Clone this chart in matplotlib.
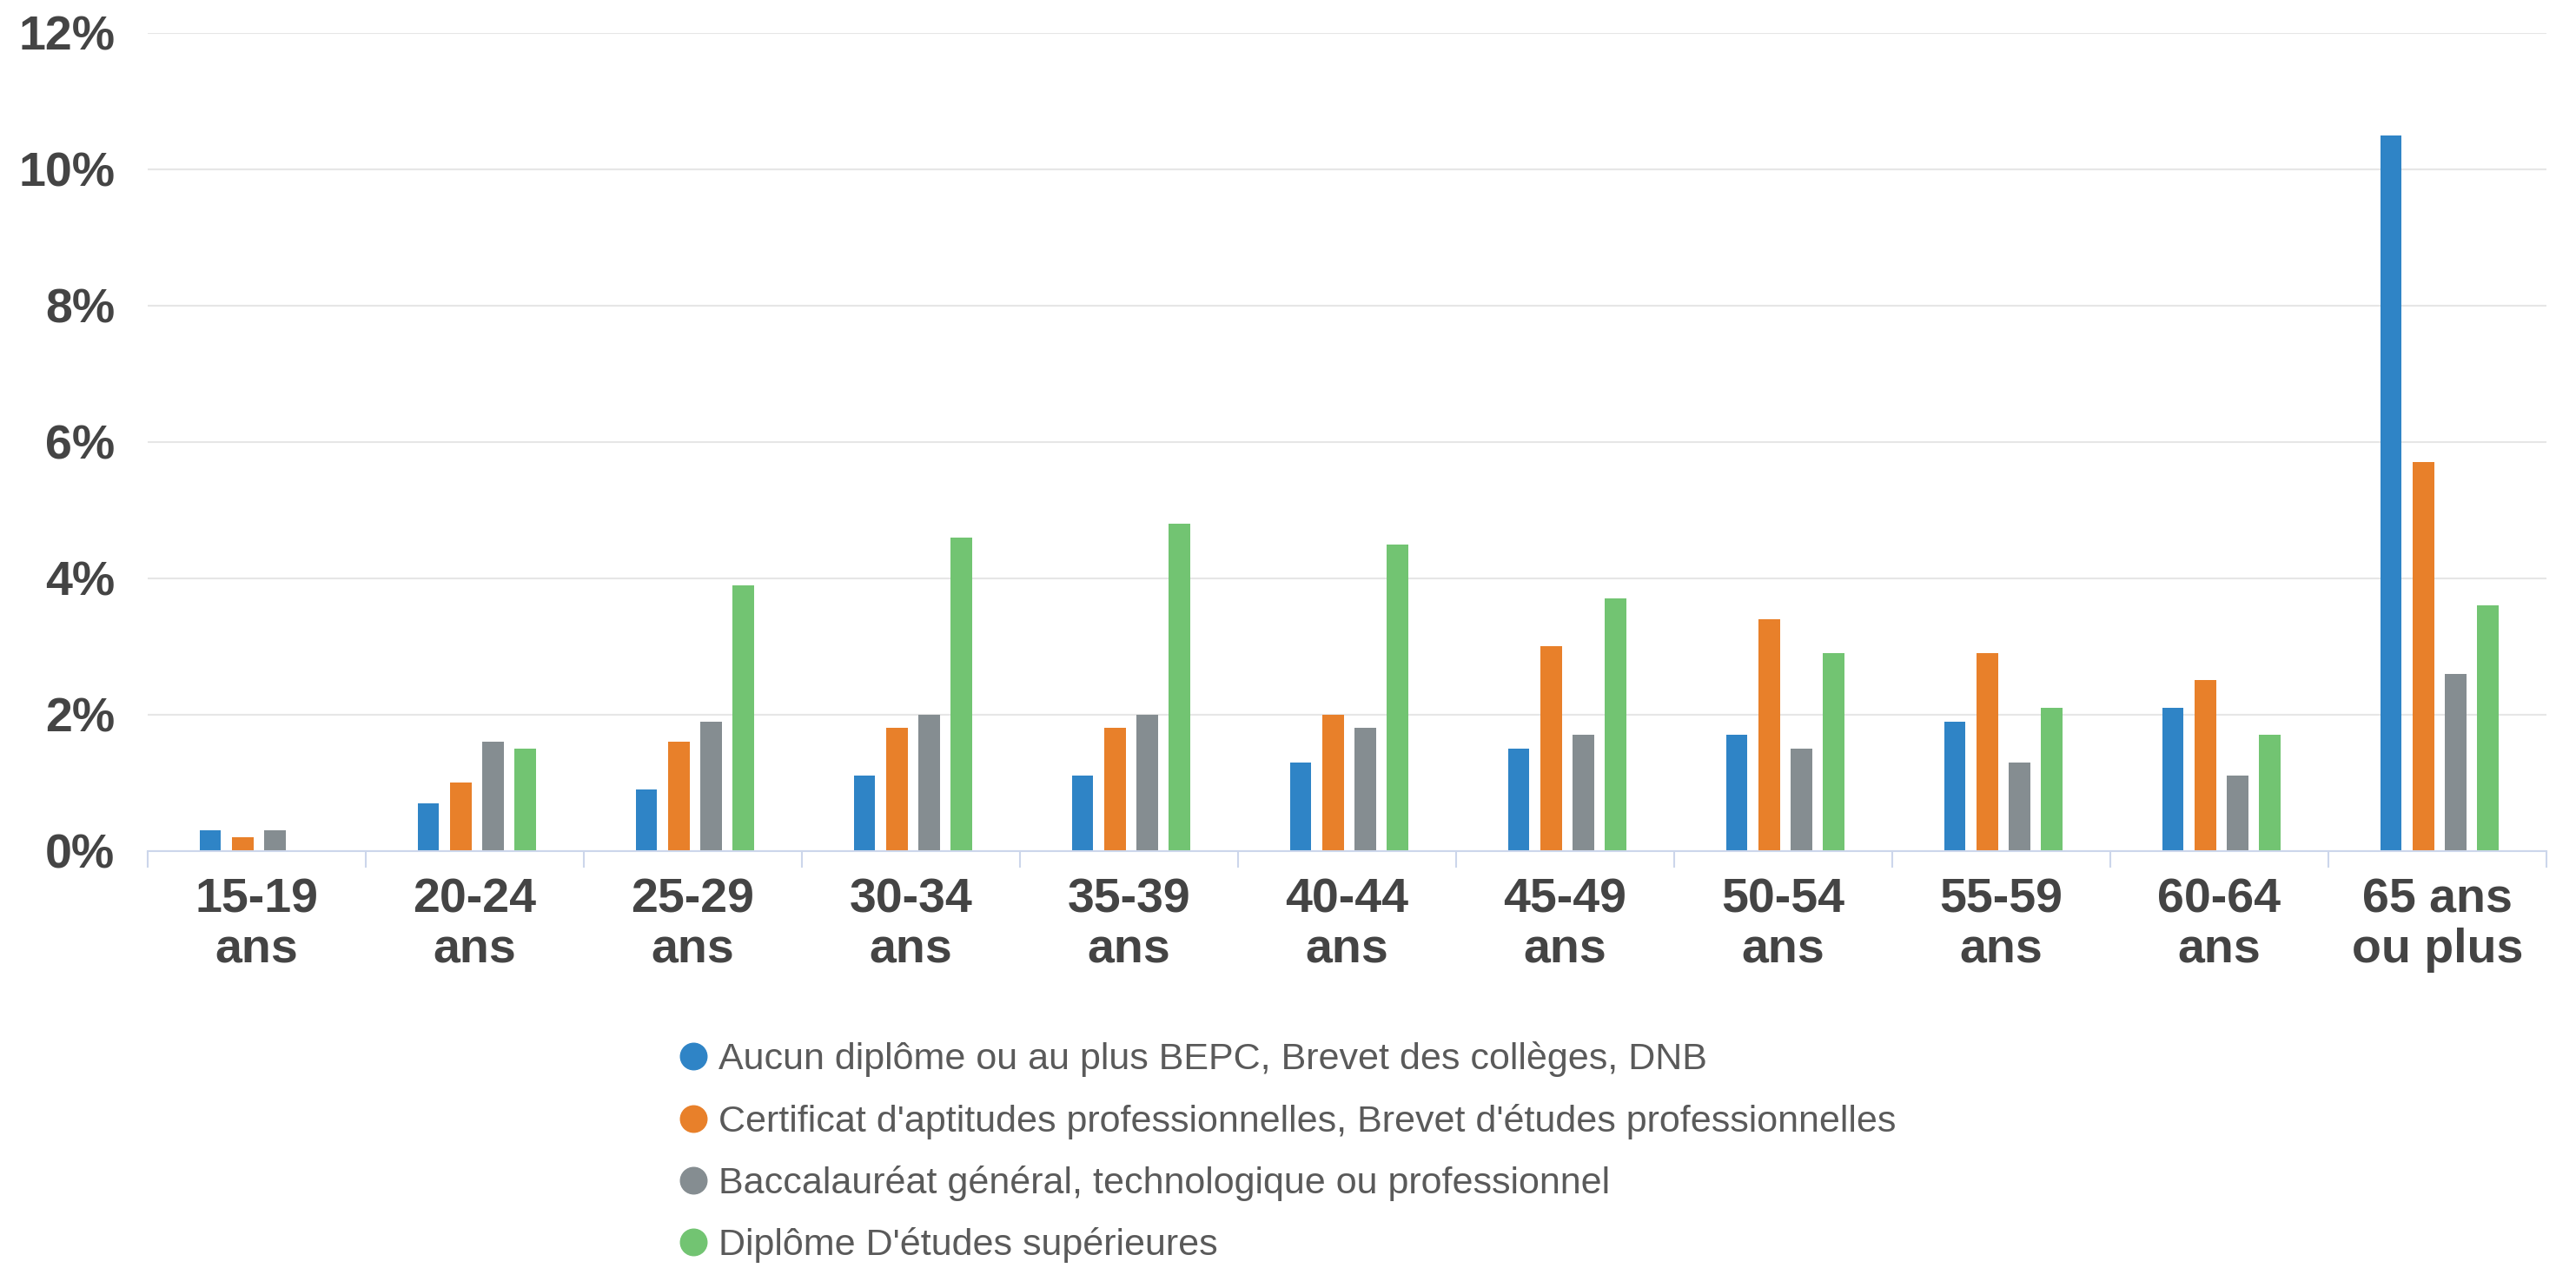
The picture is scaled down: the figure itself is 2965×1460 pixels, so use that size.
import numpy as np
import matplotlib.pyplot as plt
from matplotlib.lines import Line2D

plt.rcParams['font.family'] = ['Liberation Sans', 'DejaVu Sans']

groupes = ["15-19\nans", "20-24\nans", "25-29\nans", "30-34\nans", "35-39\nans",
           "40-44\nans", "45-49\nans", "50-54\nans", "55-59\nans", "60-64\nans",
           "65 ans\nou plus"]
aucun = [0.3, 0.7, 0.9, 1.1, 1.1, 1.3, 1.5, 1.7, 1.9, 2.1, 10.5]
cap_bep = [0.2, 1.0, 1.6, 1.8, 1.8, 2.0, 3.0, 3.4, 2.9, 2.5, 5.7]
bac = [0.3, 1.6, 1.9, 2.0, 2.0, 1.8, 1.7, 1.5, 1.3, 1.1, 2.6]
sup = [0.0, 1.5, 3.9, 4.6, 4.8, 4.5, 3.7, 2.9, 2.1, 1.7, 3.6]

series = [aucun, cap_bep, bac, sup]
noms = ["Aucun diplôme ou au plus BEPC, Brevet des collèges, DNB",
        "Certificat d'aptitudes professionnelles, Brevet d'études professionnelles",
        "Baccalauréat général, technologique ou professionnel",
        "Diplôme D'études supérieures"]
couleurs = ["#2f84c6", "#e8802a", "#858d91", "#72c472"]

fig = plt.figure(figsize=(29.65, 14.6), dpi=100)
ax = fig.add_axes([0.0573, 0.329, 0.9312, 0.645])

x = np.arange(len(groupes))
decal = [-0.212, -0.064, 0.084, 0.232]
for vals, c, d in zip(series, couleurs, decal):
    ax.bar(x + d, vals, width=0.098, color=c, zorder=3)

ax.set_xlim(-0.5, len(groupes) - 0.5)
ax.set_ylim(0, 12)
ax.set_yticks(range(0, 13, 2))
ax.set_yticklabels([f"{v}%" for v in range(0, 13, 2)])
ax.yaxis.grid(True, color="#e6e6e6", linewidth=1.5, zorder=0)
ax.tick_params(axis='y', length=0, pad=27, labelsize=40, labelcolor="#444444")

# labels centres, ticks aux frontieres
ax.set_xticks(x)
ax.set_xticklabels(groupes, fontsize=40, fontweight='bold', color="#444444",
                   linespacing=1.15)
ax.tick_params(axis='x', length=0, pad=22)
ax.set_xticks(np.arange(-0.5, len(groupes)), minor=True)
ax.tick_params(axis='x', which='minor', length=14, width=1.5, color="#ccd6eb")
for lab in ax.get_yticklabels():
    lab.set_fontweight('bold')

for s in ['top', 'right', 'left']:
    ax.spines[s].set_visible(False)
ax.spines['bottom'].set_color("#ccd6eb")
ax.spines['bottom'].set_linewidth(1.5)
ax.spines['bottom'].set_zorder(4)

handles = [Line2D([], [], marker='o', linestyle='none', markersize=22,
                  markerfacecolor=c, markeredgecolor=c) for c in couleurs]
fig.legend(handles, noms, loc='upper left', bbox_to_anchor=(0.2505, 0.205),
           frameon=False, fontsize=31, labelcolor="#5a5a5a",
           handletextpad=0.3, labelspacing=0.7, handlelength=0.75)

fig.savefig("out.png", dpi=100)
